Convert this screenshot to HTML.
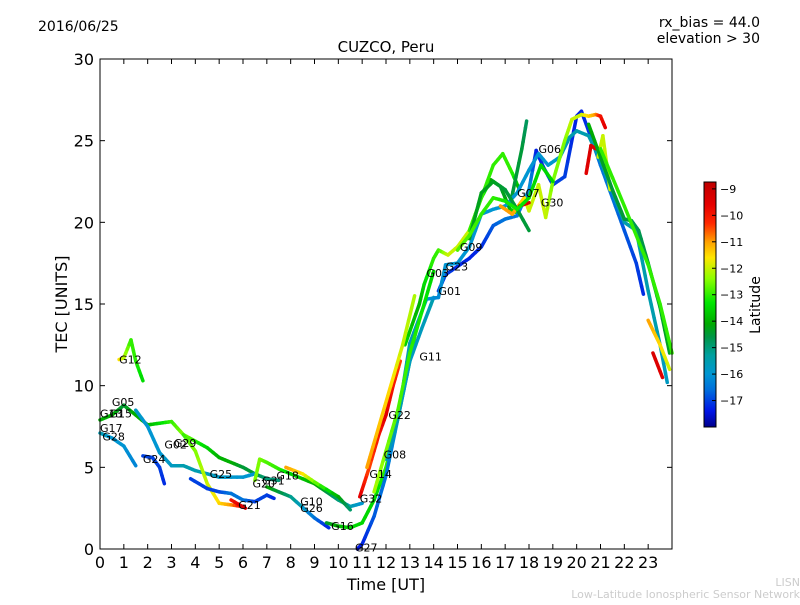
<!DOCTYPE html>
<html><head><meta charset="utf-8"><style>
body{margin:0;background:#fff;font-family:"Liberation Sans","DejaVu Sans",sans-serif}
#wrap{position:relative;width:800px;height:600px;background:#fff}
svg text{font-family:"DejaVu Sans","Liberation Sans",sans-serif}
</style></head><body>
<div id="wrap">
<svg id="svg" width="800" height="600">
<defs><linearGradient id="cmap" x1="0" y1="1" x2="0" y2="0"></linearGradient></defs>
<text x="38" y="31" font-size="14">2016/06/25</text>
<text x="760" y="27" font-size="14" text-anchor="end">rx_bias = 44.0</text>
<text x="760" y="43" font-size="14" text-anchor="end">elevation &gt; 30</text>
<text x="386" y="52" font-size="15" text-anchor="middle">CUZCO, Peru</text>
<g id="plot"></g>
<g id="axes"></g>
<rect x="100" y="59" width="572" height="490" fill="none" stroke="#000" stroke-width="1"/>
<text x="386" y="590" font-size="16" text-anchor="middle">Time [UT]</text>
<text transform="translate(67,304) rotate(-90)" font-size="16" text-anchor="middle">TEC [UNITS]</text>
<rect x="704" y="182" width="12" height="245" fill="url(#cmap)" stroke="#000" stroke-width="1"/>
<g id="cbticks"></g>
<text transform="translate(760,305) rotate(-90)" font-size="14" text-anchor="middle">Latitude</text>
<text x="800" y="586" font-size="11" fill="#ccc" text-anchor="end">LISN</text>
<text x="800" y="598" font-size="11" fill="#ccc" text-anchor="end">Low-Latitude Ionospheric Sensor Network</text>
</svg></div>
<script>
const xTicks=[0,1,2,3,4,5,6,7,8,9,10,11,12,13,14,15,16,17,18,19,20,21,22,23];
const yTicks=[0,5,10,15,20,25,30];
const cbTicks=[-9,-10,-11,-12,-13,-14,-15,-16,-17];
const trackTimes=[
[0.8,1.0,1.3,1.5,1.8],
[0,0.5,1,1.5,2,2.5,3,3.5,4,4.5,5,5.5,6,6.5,7,7.5],
[0,0.5,1,1.5],
[1.8,2.2,2.5,2.7],
[1.5,2,2.5,3,3.5,4,5,6,6.5],
[3.5,4,4.5,5,5.5,6],
[5.5,6.1],
[3.8,4.5,5,5.5,6,6.5,7,7.3],
[6.5,6.7,7,7.5,8,9,10,10.5,11],
[7.8,8.5,9,10,10.5],
[7,8,9,9.6],
[9.5,10,10.5,11,11.5,12,12.5,13,13.3],
[10.8,11,11.5,12,12.5,13,13.5,14],
[10.9,11.3,11.7,12,12.3,12.6],
[12.8,13.4,13.6,14,14.2,14.6,15,15.5,16,16.4,16.8,17.2,17.6],
[15.5,16,16.5,16.9,17.3,17.6],
[17.2,17.7,17.9],
[14.2,14.5,15,15.5,16,16.5,17,17.5,18,18.3,18.6,19,19.5,20,20.2,20.6,21,21.5,22,22.5,22.8],
[12,12.5,13,13.7,14.2,14.5,15,15.5,16,16.5,17,17.5,18,18.4,18.8,19.3,19.7,20,20.5,21,21.5,22,22.5,23,23.5,23.8],
[16.8,17.3,17.8,18,18.4,18.7,19,19.5,19.8,20.2,20.5,20.8,21,21.2],
[17.6,18],
[20.4,20.6,20.8],
[20.9,21.1,21.4],
[20.5,21,21.5,22,22.3,22.6,23,23.5,23.9],
[21,22,23,23.5,24],
[23,23.5,23.9],
[23.2,23.6],
[15.5,16,16.5,17,17.5,18],
[15,15.5,16,16.5,17,17.5,18,18.5,19],
[11.5,12,12.5,13,13.5,14],
[11.2,11.7,12.2,12.7,13.2]];
const trackTec=[
[11.6,11.7,12.8,11.5,10.3],
[7.9,8.2,8.8,8.2,7.6,7.7,7.8,7.0,6.6,6.2,5.6,5.3,5.0,4.6,4.3,4.2],
[7.1,6.8,6.3,5.1],
[5.7,5.6,5.0,4.0],
[8.5,7.5,5.9,5.1,5.1,4.8,4.4,4.4,4.6],
[7.0,6.0,4.0,2.8,2.7,2.6],
[3.0,2.5],
[4.3,3.7,3.5,3.4,3.0,2.9,3.3,3.1],
[4.2,5.5,5.3,4.9,4.6,4.0,3.0,2.6,2.8],
[5.0,4.6,4.1,3.2,2.4],
[3.8,3.2,1.9,1.3],
[1.6,1.4,1.3,1.6,3.0,5.0,8.0,11.5,13.7],
[0.0,0.3,2.0,4.5,8.0,11.5,13.5,15.4],
[3.2,5.0,7.0,8.2,10.0,11.5],
[12.5,15.0,16.2,17.8,18.3,18.0,18.5,19.5,21.5,22.6,22.2,20.8,20.5],
[19.5,21.5,23.5,24.2,23.0,22.0],
[21.0,24.5,26.2],
[15.8,16.8,17.3,17.8,18.5,19.8,20.2,20.4,22.0,24.4,23.4,22.3,22.8,26.5,26.8,25.2,23.5,21.5,19.5,17.5,15.6],
[5.5,8.0,12.6,15.3,15.4,17.4,17.5,18.5,20.5,20.8,21.0,21.8,23.2,24.2,23.5,24.0,25.2,25.6,25.3,23.8,21.9,20.0,19.5,15.8,12.5,10.2],
[21.0,20.5,21.5,20.7,22.3,20.3,22.5,25.0,26.3,26.6,26.5,26.6,26.5,25.8],
[21.0,21.2],
[23.0,24.7,24.5],
[24.0,25.3,22.0],
[26.0,24.0,22.0,20.2,20.1,19.5,17.5,14.8,12.0],
[24.5,21.0,17.4,15.0,12.0],
[14.0,12.5,11.0],
[12.0,10.5],
[19.0,21.8,22.5,22.0,20.8,19.5],
[18.3,19.2,20.5,21.5,21.3,20.8,21.5,23.5,22.5],
[3.5,6.0,8.5,12.0,14.5,17.0],
[5.0,7.5,10.0,12.5,15.5]];
const trackLat=[
[-11.5,-12,-13,-13,-13.5],
[-14,-14,-14.5,-14,-14,-13.5,-13,-12.5,-13,-13.5,-14,-14,-14.5,-14.5,-15,-15],
[-15.5,-16,-16,-16.3],
[-17,-17,-17,-17.2],
[-15.8,-16,-16,-15.8,-15.5,-15.5,-15.8,-16,-16],
[-13,-12.5,-12,-11.5,-11,-9.8],
[-10,-9.3],
[-17,-17,-17,-16.5,-16.5,-17,-17,-17.2],
[-12.5,-12.5,-12.8,-13,-13.5,-14,-15,-15.5,-16],
[-11,-11.5,-12.5,-14,-15],
[-14,-15,-16.5,-17.3],
[-14.5,-14,-13.5,-13.5,-13.5,-13,-13,-13,-13.5],
[-17.5,-17.3,-16.8,-16.5,-16,-15.8,-15.7,-15.5],
[-9.5,-10.5,-10,-9.5,-10,-10.5],
[-13.5,-14,-13.5,-13,-13,-12,-12,-12,-13,-14,-14.5,-14,-13],
[-13,-13,-13,-13,-13,-14],
[-14.5,-14.5,-14.8],
[-17,-17,-17.2,-17.3,-17.2,-16.8,-16.5,-16.5,-16,-17.3,-17.2,-17,-17,-17.3,-17.3,-17,-16.5,-16.5,-16.8,-17,-17.2],
[-15.5,-15.5,-15.5,-16,-16.2,-16,-16,-16,-16,-16,-16,-16,-16,-16,-16,-15.8,-15.5,-15.5,-15.5,-15.5,-15.5,-15.5,-15.5,-15.5,-15.5,-15.8],
[-11,-11,-11.5,-12,-12,-12,-12.5,-12.5,-12,-12,-11.5,-11,-10,-9.5],
[-9.3,-9.3],
[-9.5,-9.3,-9.5],
[-12,-12,-12],
[-14,-14.3,-14.5,-14.5,-14.7,-14.7,-14.5,-14.5,-14.3],
[-13,-13,-13,-13,-13],
[-11,-11.5,-12],
[-9.3,-9.5],
[-14.3,-14.3,-14.3,-14.5,-14.5,-14.5],
[-12.8,-12.8,-13,-13,-13.2,-13.2,-13.4,-13.5,-13.5],
[-12.2,-12.5,-12.8,-13,-13.2,-13.5],
[-11,-11.3,-11.5,-12,-12.2]];
const labelNames=["G12","G05","G15","G13","G17","G28","G24","G02","G29","G25","G21","G20","G31","G18","G10","G26","G16","G27","G32","G14","G08","G22","G11","G01","G03","G23","G09","G07","G06","G30"];
const labelTimes=[0.8,0.5,0.4,0,0,0.1,1.8,2.7,3.1,4.6,5.8,6.4,6.8,7.4,8.4,8.4,9.7,10.7,10.9,11.3,11.9,12.1,13.4,14.2,13.7,14.5,15.1,17.5,18.4,18.5];
const labelTec=[11.6,9.0,8.3,8.3,7.4,6.9,5.5,6.4,6.5,4.6,2.7,4.0,4.2,4.5,2.9,2.5,1.4,0.1,3.1,4.6,5.8,8.2,11.8,15.8,16.9,17.3,18.5,21.8,24.5,21.2];
// colormap (latitude -> color), matching reference colorbar
const cmapLat=[-18,-17.4,-16.6,-16,-15.3,-14.6,-14.1,-13.3,-12.4,-11.6,-11,-10.3,-9.6,-8.74];
const cmapCol=[[0,0,140],[0,20,230],[0,110,220],[0,150,210],[0,160,160],[0,150,70],[0,170,0],[0,230,0],[140,255,0],[255,230,0],[255,160,0],[255,40,0],[230,0,0],[190,0,0]];
const X0=100,X1=672,Y0=549,Y1=59;
const xs=t=>X0+t*(X1-X0)/24;
const ys=v=>Y0-v*(Y0-Y1)/30;
const cbY=l=>182+(-8.74-l)*(427-182)/(18-8.74);
function col(l){
  if(l<=cmapLat[0])return `rgb(${cmapCol[0]})`;
  for(let i=0;i<cmapLat.length-1;i++){
    if(l<=cmapLat[i+1]){const f=(l-cmapLat[i])/(cmapLat[i+1]-cmapLat[i]);
      const c=cmapCol[i].map((v,k)=>Math.round(v+(cmapCol[i+1][k]-v)*f));return `rgb(${c})`;}
  }
  return `rgb(${cmapCol[cmapCol.length-1]})`;
}
const NS="http://www.w3.org/2000/svg";
const plot=document.getElementById('plot'),axes=document.getElementById('axes'),cb=document.getElementById('cbticks');
function mk(tag,attrs,parent){const e=document.createElementNS(NS,tag);for(const k in attrs)e.setAttribute(k,attrs[k]);parent.appendChild(e);return e;}
const grad=document.getElementById('cmap');
cmapLat.forEach((l,i)=>{mk('stop',{offset:(l+18)/(18-8.74),'stop-color':`rgb(${cmapCol[i]})`},grad);});
trackTimes.forEach((ts,i)=>{
  const g=mk('g',{},plot);
  
  
  for(let j=0;j<ts.length-1;j++){
    const steps=4;
    for(let s=0;s<steps;s++){
      const a=s/steps,b=(s+1)/steps;
      const t1=ts[j]+(ts[j+1]-ts[j])*a,t2=ts[j]+(ts[j+1]-ts[j])*b;
      const v1=trackTec[i][j]+(trackTec[i][j+1]-trackTec[i][j])*a,v2=trackTec[i][j]+(trackTec[i][j+1]-trackTec[i][j])*b;
      const la=trackLat[i][j]+(trackLat[i][j+1]-trackLat[i][j])*(a+b)/2;
      const ln=mk('line',{x1:xs(t1),y1:ys(v1),x2:xs(t2),y2:ys(v2),stroke:col(la),'stroke-width':3.5,'stroke-linecap':'round'},g);
      
      
    }
  }
});
labelNames.forEach((n,i)=>{
  const t=mk('text',{x:xs(labelTimes[i]),y:ys(labelTec[i])+4,'font-size':11},plot);
  t.textContent=n;
  
  
});
xTicks.forEach(t=>{
  const x=xs(t);
  mk('line',{x1:x,y1:Y0,x2:x,y2:Y0-5,stroke:'#000'},axes);
  mk('line',{x1:x,y1:Y1,x2:x,y2:Y1+5,stroke:'#000'},axes);
  const tx=mk('text',{x:x,y:568,'font-size':16,'text-anchor':'middle'},axes);
  tx.textContent=t;
  
  
});
yTicks.forEach(v=>{
  const y=ys(v);
  mk('line',{x1:X0,y1:y,x2:X0+5,y2:y,stroke:'#000'},axes);
  mk('line',{x1:X1,y1:y,x2:X1-5,y2:y,stroke:'#000'},axes);
  const tx=mk('text',{x:94,y:y+6,'font-size':16,'text-anchor':'end'},axes);
  tx.textContent=v;
  
  
});
cbTicks.forEach(l=>{
  const y=cbY(l);
  mk('line',{x1:712,y1:y,x2:716,y2:y,stroke:'#000'},cb);
  const tx=mk('text',{x:720,y:y+4,'font-size':11},cb);
  tx.textContent='\u2212'+Math.abs(l);
  
  
});
</script>
</body></html>
